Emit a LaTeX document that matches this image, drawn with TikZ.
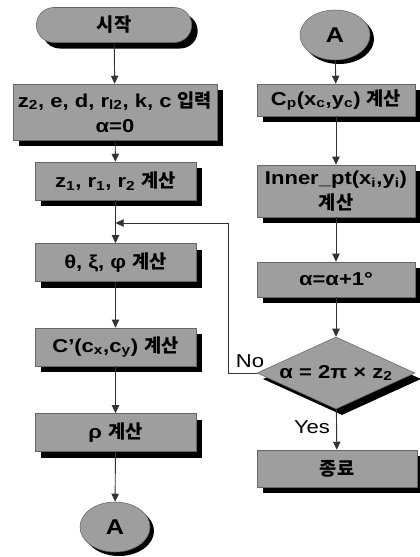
\documentclass[tikz,border=0pt]{standalone}
\usepackage{fontspec}
\setmainfont{Liberation Sans}[FakeStretch=1.18]
\newfontfamily\krfont{Noto Sans CJK KR}
\usepackage{tikz}
\usetikzlibrary{arrows.meta,positioning,shapes.geometric,shapes.misc,shadows}
\definecolor{dotfill}{gray}{0.62}
\newcommand\boxfont{\fontsize{14}{19}\selectfont\bfseries}
\newcommand\lblfont{\fontsize{14}{16}\selectfont}

\begin{document}
\begin{tikzpicture}[x=0.75pt, y=-0.75pt,
  base/.style={draw=black!60, fill=dotfill, align=center, font=\boxfont, inner sep=1pt},
  shad/.style={drop shadow={shadow xshift=#1, shadow yshift=-#1, fill=black, opacity=1}},
  shad/.default=4.5pt,
  box/.style={base, shad, minimum width=120.75pt, minimum height=28.5pt},
  term/.style={base, shad, rounded rectangle, minimum width=118.5pt, minimum height=26.25pt},
  conn/.style={base, shad=3pt, ellipse, minimum width=52.5pt, minimum height=37.5pt, font=\fontsize{16}{18}\selectfont\bfseries},
  test/.style={base, shad, diamond, aspect=2.4, inner sep=0pt, minimum width=118.5pt, minimum height=54pt},
  lbl/.style={font=\lblfont},
  rel/.style={-{Triangle[length=6pt,width=5.5pt]}, line width=0.7pt, draw=black!80}
]
\useasboundingbox (0,0) rectangle (420,557);

% left column
\node[term] (start) at (114,25) {\krfont 시작};
\node[box, minimum width=153pt, minimum height=42pt] (input) at (115,112)
  {z\textsubscript{2}, e, d, r\textsubscript{l2}, k, c {\krfont 입력}\\α=0};
\node[box] (zr) at (115.5,181) {z\textsubscript{1}, r\textsubscript{1}, r\textsubscript{2} {\krfont 계산}};
\node[box] (ang) at (115.5,262.5) {θ, ξ, φ {\krfont 계산}};
\node[box] (cstar) at (115.5,347) {C'(c\textsubscript{x},c\textsubscript{y}) {\krfont 계산}};
\node[box] (rho) at (115.5,432.5) {ρ {\krfont 계산}};
\node[conn] (aout) at (115,527) {A};

% right column
\node[conn] (ain) at (335,35) {A};
\node[box, minimum width=118.5pt, minimum height=24pt] (cp) at (336,100)
  {C\textsubscript{p}(x\textsubscript{c},y\textsubscript{c}) {\krfont 계산}};
\node[box, minimum width=118.5pt, minimum height=39pt] (inner) at (336,191)
  {Inner\_pt(x\textsubscript{i},y\textsubscript{i})\\{\krfont 계산}};
\node[box, minimum width=118.5pt, minimum height=26.25pt] (inc) at (336,279.5) {α=α+1°};
\node[test] (dec) at (336,373) {α = 2π × z\textsubscript{2}};
\node[box, minimum width=120pt, minimum height=27.75pt] (stop) at (337,468.5) {\krfont 종료};

\node[lbl] (no) at (250,361) {No};
\node[lbl] (yes) at (312,427) {Yes};

\coordinate (loopR) at (228,223);
\coordinate (loopL) at (115.5,223);

\draw[rel] (start) -- (input);
\draw[rel] (input) -- (zr);
\draw[rel] (zr) -- (ang);
\draw[rel] (ang) -- (cstar);
\draw[rel] (cstar) -- (rho);
\draw[rel] (rho) -- (aout);

\draw[rel] (ain) -- (cp);
\draw[rel] (cp) -- (inner);
\draw[rel] (inner) -- (inc);
\draw[rel] (inc) -- (dec);
\draw[rel] (dec) -- (stop);
\draw[rel] (dec.west) -| (loopR) -- (loopL);
\end{tikzpicture}
\end{document}
